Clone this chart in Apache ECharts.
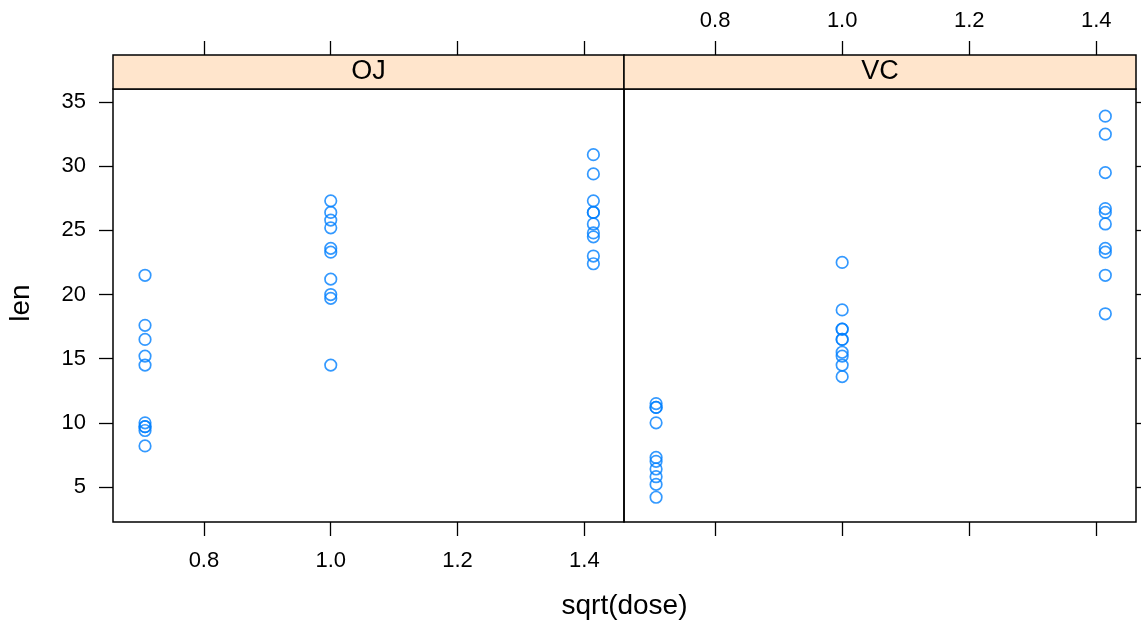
<!DOCTYPE html>
<html>
<head>
<meta charset="utf-8">
<script src="https://cdn.jsdelivr.net/npm/echarts@6/dist/echarts.min.js"></script>
<style>html,body{margin:0;padding:0;background:#fff}#c{width:1141px;height:622px}</style>
</head>
<body>
<div id="c"></div>
<script>
// Data (ToothGrowth): len by dose, for each supplement
var doses = [0.5, 1, 2];
var ojLen = {
  0.5: [15.2, 21.5, 17.6, 9.7, 14.5, 10.0, 8.2, 9.4, 16.5, 9.7],
  1:   [19.7, 23.3, 23.6, 26.4, 20.0, 25.2, 25.8, 21.2, 14.5, 27.3],
  2:   [25.5, 26.4, 22.4, 24.5, 24.8, 30.9, 26.4, 27.3, 29.4, 23.0]
};
var vcLen = {
  0.5: [4.2, 11.5, 7.3, 5.8, 6.4, 10.0, 11.2, 11.2, 5.2, 7.0],
  1:   [16.5, 16.5, 15.2, 17.3, 22.5, 17.3, 13.6, 14.5, 18.8, 15.5],
  2:   [23.6, 18.5, 33.9, 25.5, 26.4, 32.5, 26.7, 21.5, 23.3, 29.5]
};
var panels = ['OJ', 'VC'];
var xTicks = [0.8, 1.0, 1.2, 1.4];
var yTicks = [5, 10, 15, 20, 25, 30, 35];

function pts(obj) {
  var out = [];
  doses.forEach(function (d) {
    obj[d].forEach(function (v) { out.push([Math.sqrt(d), v]); });
  });
  return out;
}

var XMIN = 0.6566, XMAX = 1.4625, YMIN = 2.27, YMAX = 36.02;
var FONT = 'Liberation Sans, Arial, Helvetica, sans-serif';
var tickFmt = function (v) { return v.toFixed(1); };

function xAxis(grid, pos, labels, offset) {
  return {
    type: 'value', gridIndex: grid, position: pos, offset: offset || 0,
    min: XMIN, max: XMAX,
    axisLine: { show: false },
    splitLine: { show: false },
    axisTick: { show: true, inside: false, length: 14, customValues: xTicks,
      lineStyle: { color: '#000', width: 1.3 } },
    axisLabel: { show: labels, customValues: xTicks, formatter: tickFmt,
      color: '#000', fontSize: 22, fontFamily: FONT, margin: pos === 'top' ? 23 : 28 }
  };
}
function yAxis(grid, pos, labels) {
  return {
    type: 'value', gridIndex: grid, position: pos,
    min: YMIN, max: YMAX,
    axisLine: { show: false },
    splitLine: { show: false },
    axisTick: { show: true, inside: false, length: 14, customValues: yTicks,
      lineStyle: { color: '#000', width: 1.3 } },
    axisLabel: { show: labels, customValues: yTicks,
      color: '#000', fontSize: 22, fontFamily: FONT, margin: 27 }
  };
}

var itemStyle = { color: 'rgba(0,0,0,0)', borderColor: '#0080ff', borderWidth: 1.7 };

var option = {
  animation: false,
  backgroundColor: '#fff',
  grid: [
    { left: 113, right: 1141 - 624, top: 89, bottom: 622 - 522, show: true,
      borderColor: '#000', borderWidth: 1.5, backgroundColor: 'transparent' },
    { left: 624, right: 1141 - 1136, top: 89, bottom: 622 - 522, show: true,
      borderColor: '#000', borderWidth: 1.5, backgroundColor: 'transparent' }
  ],
  xAxis: [
    xAxis(0, 'bottom', true),
    xAxis(0, 'top', false, 34),
    xAxis(1, 'bottom', false),
    xAxis(1, 'top', true, 34)
  ],
  yAxis: [
    yAxis(0, 'left', true),
    yAxis(1, 'right', false)
  ],
  series: [
    { type: 'scatter', name: panels[0], xAxisIndex: 0, yAxisIndex: 0, data: pts(ojLen),
      symbol: 'circle', symbolSize: 11.5, itemStyle: itemStyle, silent: true },
    { type: 'scatter', name: panels[1], xAxisIndex: 2, yAxisIndex: 1, data: pts(vcLen),
      symbol: 'circle', symbolSize: 11.5, itemStyle: itemStyle, silent: true }
  ],
  graphic: [
    { type: 'rect', shape: { x: 113, y: 55, width: 511, height: 34 },
      style: { fill: '#ffe5cc', stroke: '#000', lineWidth: 1.5 } },
    { type: 'rect', shape: { x: 624, y: 55, width: 512, height: 34 },
      style: { fill: '#ffe5cc', stroke: '#000', lineWidth: 1.5 } },
    { type: 'text', x: 368.5, y: 72, style: { text: panels[0], fill: '#000', font: '27px ' + FONT,
      textAlign: 'center', textVerticalAlign: 'middle' } },
    { type: 'text', x: 880, y: 72, style: { text: panels[1], fill: '#000', font: '27px ' + FONT,
      textAlign: 'center', textVerticalAlign: 'middle' } },
    { type: 'text', x: 624.5, y: 606, style: { text: 'sqrt(dose)', fill: '#000', font: '28px ' + FONT,
      textAlign: 'center', textVerticalAlign: 'middle' } },
    { type: 'text', x: 21, y: 303, rotation: Math.PI / 2, style: { text: 'len', fill: '#000', font: '28px ' + FONT,
      textAlign: 'center', textVerticalAlign: 'middle' } }
  ]
};
echarts.init(document.getElementById('c')).setOption(option);
</script>
</body>
</html>
